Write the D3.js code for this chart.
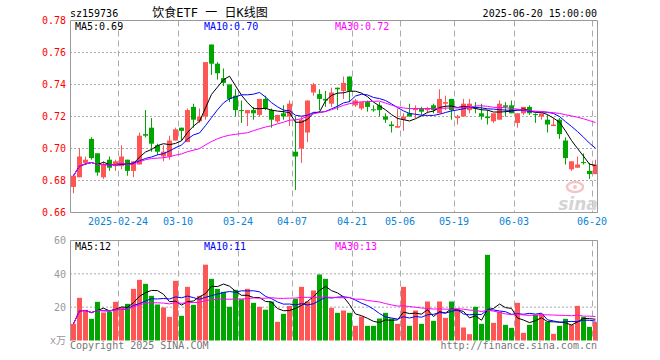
<!DOCTYPE html>
<html>
<head>
<meta charset="utf-8">
<title>饮食ETF 日K线图</title>
<style>
  body { margin: 0; background: #fff; }
  text { font-family: "DejaVu Sans Mono", "Noto Sans CJK SC", monospace; font-size: 10px; }
</style>
</head>
<body>
<svg width="660" height="360"></svg>
<script src="https://cdn.jsdelivr.net/npm/d3@7"></script>
<script>

// trading days, 2025
var dates = ["02-12","02-13","02-14","02-17","02-18","02-19","02-20","02-21","02-24","02-25","02-26","02-27","02-28",
  "03-03","03-04","03-05","03-06","03-07","03-10","03-11","03-12","03-13","03-14","03-17","03-18","03-19","03-20","03-21",
  "03-24","03-25","03-26","03-27","03-28","03-31","04-01","04-02","04-03","04-07","04-08","04-09","04-10","04-11",
  "04-14","04-15","04-16","04-17","04-18","04-21","04-22","04-23","04-24","04-25","04-28","04-29","04-30",
  "05-06","05-07","05-08","05-09","05-12","05-13","05-14","05-15","05-16","05-19","05-20","05-21","05-22","05-23",
  "05-26","05-27","05-28","05-29","05-30","06-03","06-04","06-05","06-06","06-09","06-10","06-11","06-12","06-13",
  "06-16","06-17","06-18","06-19","06-20"];

var open = [.676,.682,.691,.706,.697,.682,.693,.689,.689,.693,.686,.690,.709,.713,.702,.695,.695,.705,.713,.704,
  .726,.717,.720,.765,.753,.744,.740,.733,.724,.722,.724,.721,.731,.724,.717,.722,.720,.698,.700,.710,
  .735,.734,.731,.728,.738,.736,.745,.727,.725,.729,.7245,.727,.720,.715,.713,.718,.722,.724,.725,.724,
  .727,.722,.728,.731,.719,.720,.724,.726,.722,.720,.717,.718,.727,.727,.716,.722,.726,.7215,.720,.718,
  .714,.718,.705,.687,.688,.6915,.686,.684];
var high = [.683,.700,.695,.707,.697,.692,.695,.693,.702,.693,.692,.710,.724,.719,.703,.702,.708,.713,.713,.725,
  .728,.725,.754,.765,.754,.750,.740,.737,.730,.724,.726,.731,.733,.725,.721,.727,.730,.720,.720,.730,
  .741,.737,.736,.738,.738,.745,.745,.731,.729,.730,.727,.729,.722,.717,.725,.722,.728,.727,.726,.726,
  .728,.737,.733,.731,.721,.731,.731,.729,.728,.724,.722,.730,.729,.730,.722,.726,.727,.722,.722,.721,
  .719,.719,.707,.692,.695,.697,.691,.693];
var low = [.672,.682,.690,.693,.683,.681,.686,.686,.687,.683,.682,.690,.707,.698,.696,.692,.693,.705,.705,.704,
  .713,.716,.718,.746,.743,.739,.729,.720,.716,.714,.718,.720,.724,.713,.716,.718,.714,.674,.691,.704,
  .733,.724,.726,.726,.724,.731,.729,.726,.724,.723,.723,.720,.716,.710,.713,.711,.720,.719,.721,.722,
  .722,.722,.724,.718,.715,.720,.722,.722,.718,.715,.716,.718,.720,.722,.713,.721,.721,.716,.718,.710,
  .714,.706,.690,.686,.688,.690,.681,.684];
var close = [.683,.695,.693,.694,.685,.690,.688,.692,.695,.686,.692,.708,.708,.703,.698,.698,.705,.712,.711,.724,
  .718,.720,.754,.753,.747,.741,.731,.724,.7235,.724,.722,.731,.725,.718,.721,.720,.728,.695,.718,.730,
  .740,.731,.730,.735,.737,.741,.736,.730,.729,.726,.724,.724,.718,.714,.714,.720,.720,.725,.723,.725,
  .724,.731,.729,.724,.720,.728,.728,.725,.720,.719,.722,.728,.726,.722,.722,.726,.722,.721,.722,.715,
  .715,.709,.694,.692,.690,.691,.684,.690];

// volume, 万手
var volume = [10.0,25.6,18.4,13.0,23.2,16.8,17.4,23.2,20.0,22.0,31.0,36.4,34.0,26.8,21.6,19.8,14.2,35.8,14.8,32.2,
  21.4,26.8,45.5,37.0,31.0,29.2,20.2,30.4,24.8,31.0,22.6,20.2,18.5,23.4,11.2,16.0,20.8,25.0,32.2,23.4,
  30.0,39.6,37.0,19.6,16.6,18.0,16.6,8.8,14.4,8.8,8.8,13.2,16.6,13.2,10.0,32.2,8.8,18.0,10.0,23.4,
  11.8,23.4,13.6,23.4,19.0,7.8,3.8,20.2,10.0,51.4,10.6,17.2,9.4,7.6,22.6,4.6,9.4,15.4,16.0,11.2,
  4.0,8.8,13.0,9.4,20.8,14.2,8.2,11.2];

var tickDates = ["02-24","03-10","03-24","04-07","04-21","05-06","05-19","06-03","06-20"];
var priceTicks = [0.66, 0.68, 0.70, 0.72, 0.74, 0.76, 0.78];
var volTicks = [20, 40, 60];
var maLabels = ["0.69", "0.70", "0.72"];
var volMaLabels = ["12", "11", "13"];

var red = "#ff5555", green = "#00a600", grid = "#aaa";
var maColors = ["#000", "#0000ff", "#ff00ff"], maDays = [5, 10, 30];

var svg = d3.select("svg");

var x = d3.scaleBand().domain(d3.range(dates.length)).range([70, 598]),
    y = d3.scaleLinear().domain([0.66, 0.78]).range([212.5, 20.5]),
    vy = d3.scaleLinear().domain([0, 60]).range([340.5, 240.5]);

function ma(arr, n) {
  return arr.map(function(d, i) { return d3.mean(arr.slice(Math.max(0, i - n + 1), i + 1)); });
}
function isUp(i) { return close[i] >= open[i]; }

// header
svg.append("text").attr("x", 70).attr("y", 17).text("sz159736");
svg.append("text").attr("x", 210).attr("y", 17).attr("text-anchor", "middle")
  .style("font-size", "12px").text("饮食ETF 一 日K线图");
svg.append("text").attr("x", 597).attr("y", 17).attr("text-anchor", "end").text("2025-06-20 15:00:00");

// grid lines
svg.append("g").selectAll("line").data(priceTicks.slice(1, -1)).enter().append("line")
  .attr("x1", 70).attr("x2", 597).attr("y1", y).attr("y2", y)
  .attr("stroke", grid).attr("stroke-dasharray", "2,2");
svg.append("g").selectAll("line").data(volTicks.slice(0, -1)).enter().append("line")
  .attr("x1", 70).attr("x2", 597).attr("y1", vy).attr("y2", vy)
  .attr("stroke", grid).attr("stroke-dasharray", "2,2");

var tickIdx = tickDates.map(function(d) { return dates.indexOf(d); });
[[y(0.78), y(0.66)], [vy(60), vy(0)]].forEach(function(r) {
  svg.append("g").selectAll("line").data(tickIdx).enter().append("line")
    .attr("x1", function(i) { return x(i) + 0.5; }).attr("x2", function(i) { return x(i) + 0.5; })
    .attr("y1", r[0]).attr("y2", r[1])
    .attr("stroke", grid).attr("stroke-dasharray", "6,4");
});

// sina watermark
var wm = svg.append("g").attr("transform", "translate(578,200)");
wm.append("ellipse").attr("cx", -3).attr("cy", -13).attr("rx", 8).attr("ry", 5)
  .attr("fill", "none").attr("stroke", "#f5c4c4").attr("stroke-width", 2.5);
wm.append("circle").attr("cx", -3).attr("cy", -13).attr("r", 2).attr("fill", "#f5c4c4");
wm.append("text").attr("x", 0).attr("y", 10).attr("text-anchor", "middle")
  .style("font", "italic bold 17px 'DejaVu Sans'").attr("fill", "#d4d4d4").text("sina");

// candles
var candle = svg.append("g").selectAll("g").data(dates).enter().append("g");
candle.append("line")
  .attr("x1", function(d, i) { return x(i) + 3.5; }).attr("x2", function(d, i) { return x(i) + 3.5; })
  .attr("y1", function(d, i) { return y(high[i]); }).attr("y2", function(d, i) { return y(low[i]); })
  .attr("stroke", function(d, i) { return isUp(i) ? red : green; });
candle.append("rect")
  .attr("x", function(d, i) { return x(i) + 1; })
  .attr("width", 5)
  .attr("y", function(d, i) { return y(Math.max(open[i], close[i])); })
  .attr("height", function(d, i) { return Math.max(1, Math.abs(y(open[i]) - y(close[i]))); })
  .attr("fill", function(d, i) { return isUp(i) ? red : green; });

// volume bars
svg.append("g").selectAll("rect").data(volume).enter().append("rect")
  .attr("x", function(d, i) { return x(i) + 1; })
  .attr("width", 5)
  .attr("y", function(d) { return vy(d); })
  .attr("height", function(d) { return vy(0) - vy(d); })
  .attr("fill", function(d, i) { return isUp(i) ? red : green; });

// moving averages
maDays.forEach(function(n, k) {
  var line = d3.line().x(function(d, i) { return x(i) + 3.5; });
  svg.append("path").datum(ma(close, n))
    .attr("d", line.y(function(d) { return y(d); }))
    .attr("fill", "none").attr("stroke", maColors[k]).attr("stroke-width", 1);
  svg.append("path").datum(ma(volume, n))
    .attr("d", d3.line().x(function(d, i) { return x(i) + 3.5; }).y(function(d) { return vy(d); }))
    .attr("fill", "none").attr("stroke", maColors[k]).attr("stroke-width", 1);
});

// frames
var frame = svg.append("g").attr("stroke", "#999").attr("fill", "none");
frame.append("path").attr("d", "M70.5,20.5H597.5V212.5H70.5Z");
frame.append("path").attr("d", "M70.5,341V240.5H597.5V341");

// axes
var yAxis = svg.append("g").attr("transform", "translate(70,0)")
  .call(d3.axisLeft(y).tickValues(priceTicks).tickSize(0).tickPadding(4).tickFormat(d3.format(".2f")));
yAxis.select(".domain").remove();
yAxis.selectAll("text").attr("fill", "#ff0000").style("font-size", "10px")
  .style("font-family", "DejaVu Sans Mono");

var vAxis = svg.append("g").attr("transform", "translate(70,0)")
  .call(d3.axisLeft(vy).tickValues(volTicks).tickSize(0).tickPadding(4));
vAxis.select(".domain").remove();
vAxis.selectAll("text").attr("fill", "#999").style("font-size", "10px")
  .style("font-family", "DejaVu Sans Mono");
svg.append("text").attr("x", 66).attr("y", 344).attr("text-anchor", "end").attr("fill", "#999").text("x万");

svg.append("g").selectAll("text").data(tickIdx).enter().append("text")
  .attr("x", function(i) { return x(i); }).attr("y", 225).attr("text-anchor", "middle")
  .attr("fill", "#0a84d6")
  .text(function(i, k) { return k === 0 ? "2025-" + dates[i] : dates[i]; });

// legends
[75, 204, 335].forEach(function(lx, k) {
  svg.append("text").attr("x", lx).attr("y", 30).attr("fill", maColors[k])
    .text("MA" + maDays[k] + ":" + maLabels[k]);
  svg.append("text").attr("x", lx).attr("y", 250).attr("fill", maColors[k])
    .text("MA" + maDays[k] + ":" + volMaLabels[k]);
});

// footer
svg.append("text").attr("x", 70).attr("y", 349).attr("fill", "#777").text("Copyright 2025 SINA.COM");
svg.append("text").attr("x", 597).attr("y", 349).attr("text-anchor", "end").attr("fill", "#777")
  .text("http://finance.sina.com.cn");

</script>
</body>
</html>
